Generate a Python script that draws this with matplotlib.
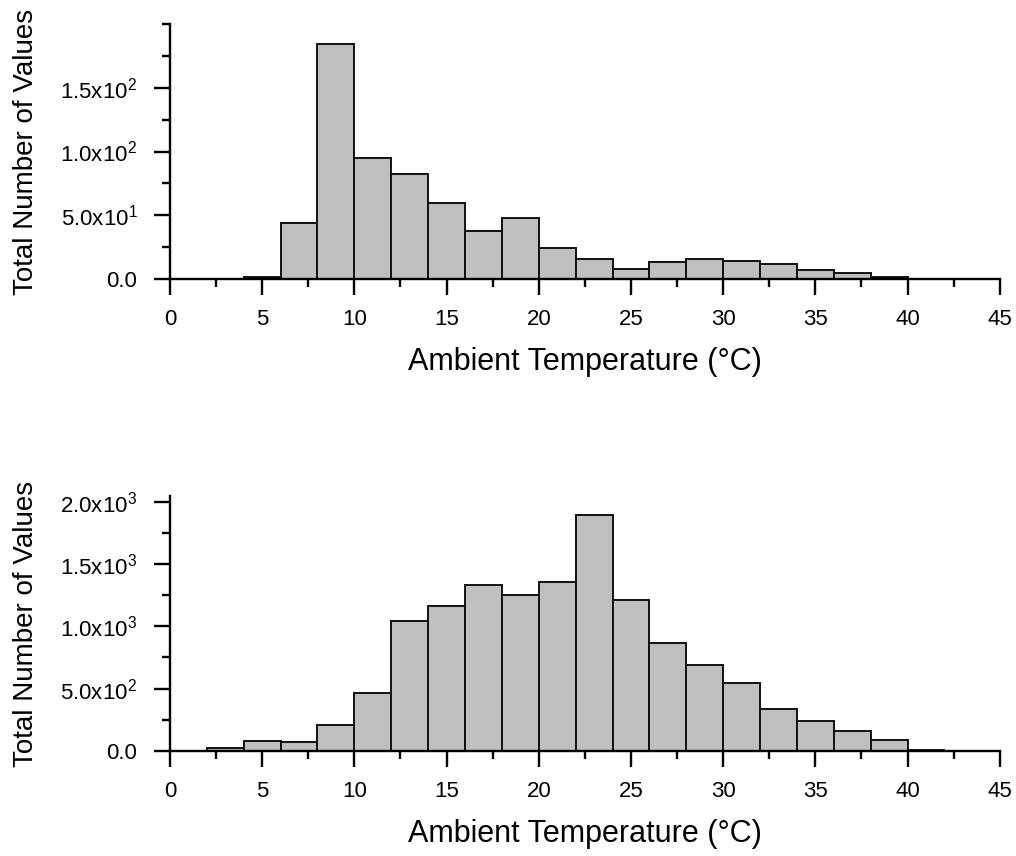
import matplotlib
matplotlib.use("Agg")
import matplotlib.pyplot as plt
from matplotlib.ticker import MultipleLocator, FixedLocator

plt.rcParams['font.family'] = ['Liberation Sans', 'DejaVu Sans']
plt.rcParams['mathtext.fontset'] = 'custom'
plt.rcParams['mathtext.rm'] = 'Liberation Sans'
plt.rcParams['mathtext.it'] = 'Liberation Sans'

# 2 degree bins from 0 to 44
bin_edges = list(range(0, 46, 2))

counts_top = [0, 0, 2, 44, 184, 95, 82, 60, 38, 48, 24, 16,
              8, 13, 16, 14, 12, 7, 5, 2, 0, 0]
counts_bottom = [0, 21, 80, 72, 206, 468, 1043, 1163, 1329, 1251, 1353, 1890,
                 1214, 864, 687, 545, 340, 243, 160, 88, 11, 0]

yticks_top = [0, 50, 100, 150]
ylabels_top = ["0.0", "5.0x10$^1$", "1.0x10$^2$", "1.5x10$^2$"]
yticks_bottom = [0, 500, 1000, 1500, 2000]
ylabels_bottom = ["0.0", "5.0x10$^2$", "1.0x10$^3$", "1.5x10$^3$", "2.0x10$^3$"]


def draw_hist(ax, counts, ymax, yticks, ylabels, yminor):
    lefts = bin_edges[:-1]
    ax.bar(lefts, counts, width=2, align='edge', color='#bfbfbf',
           edgecolor='#111111', linewidth=1.4)
    ax.set_xlim(0, 45)
    ax.set_ylim(0, ymax)
    for s in ['top', 'right']:
        ax.spines[s].set_visible(False)
    for s in ['left', 'bottom']:
        ax.spines[s].set_linewidth(1.7)
    ax.xaxis.set_major_locator(MultipleLocator(5))
    ax.xaxis.set_minor_locator(MultipleLocator(2.5))
    ax.yaxis.set_major_locator(FixedLocator(yticks))
    ax.yaxis.set_minor_locator(MultipleLocator(yminor))
    ax.set_yticklabels(ylabels)
    ax.tick_params(which='major', direction='out', length=11.5, width=1.7,
                   labelsize=16)
    ax.tick_params(which='minor', direction='out', length=6, width=1.7)
    ax.tick_params(axis='x', which='major', pad=10)
    ax.tick_params(axis='y', which='major', pad=12)
    ax.set_xlabel("Ambient Temperature (\u00b0C)", fontsize=22)
    ax.set_ylabel("Total Number of Values", fontsize=20)
    ax.xaxis.set_label_coords(0.5, -0.265)
    ax.yaxis.set_label_coords(-0.158, 0.5)
    ax.patch.set_visible(False)


fig = plt.figure(figsize=(10.16, 8.56), dpi=100)
ax1 = fig.add_axes([0.1673, 0.674, 0.8167, 0.298])
ax2 = fig.add_axes([0.1673, 0.1227, 0.8167, 0.2979])

draw_hist(ax1, counts_top, 200, yticks_top, ylabels_top, 25)
draw_hist(ax2, counts_bottom, 2045, yticks_bottom, ylabels_bottom, 250)

fig.savefig("out.png", dpi=100)
